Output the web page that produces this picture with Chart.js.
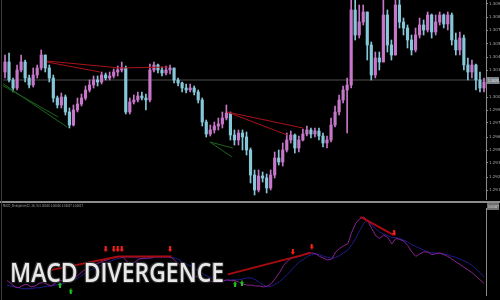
<!DOCTYPE html>
<html>
<head>
<meta charset="utf-8">
<script src="https://cdn.jsdelivr.net/npm/chart.js@4.4.0/dist/chart.umd.min.js"></script>
<style>
  html, body { margin: 0; padding: 0; background: #000; }
  #wrap { position: relative; width: 500px; height: 300px; overflow: hidden; background: #000; }
  #top { position: absolute; left: 0; top: 0; }
  #bot { position: absolute; left: 0; top: 203px; }
  #sep { position: absolute; left: 0; top: 201px; width: 500px; height: 2px; background: #8c8c8c; }
  #edge { position: absolute; left: 1px; top: 0; width: 1px; height: 300px; background: #3c3c3c; }
  #title {
    position: absolute; left: 10px; top: 258px; white-space: nowrap;
    font-family: "Open Sans", sans-serif; font-weight: 600; font-size: 27px; line-height: 1;
    color: #e8e8e8; transform-origin: 0 0;
    text-shadow: 1px 1px 1px #2a2a2a, -1px -1px 1px #3a3a3a, 1px -1px 1px #2a2a2a, -1px 1px 1px #2a2a2a;
  }
</style>
</head>
<body>
<div id="wrap">
  <canvas id="top" width="500" height="200"></canvas>
  <div id="sep"></div>
  <canvas id="bot" width="500" height="97"></canvas>
  <div id="edge"></div>
  <div id="title">MACD DIVERGENCE</div>
</div>
<script>
(() => {
  'use strict'

  // price axis
  const priceTicks = [1.3096, 1.3083, 1.3070, 1.3056, 1.3043, 1.3030, 1.3017, 1.3003,
    1.2990, 1.2977, 1.2963, 1.2950, 1.2937, 1.2923, 1.2910]
  const currentPrice = 1.3020
  const firstOpen = 1.3028

  // candles, oldest first
  const closes = [
    1.3038, 1.3020, 1.3012, 1.3030, 1.3038, 1.3022, 1.3015, 1.3025, 1.3032, 1.3045,
    1.3032, 1.3022, 1.3002, 1.2995, 1.3003, 1.2988, 1.2975, 1.2990, 1.2996, 1.3002,
    1.3010, 1.3015, 1.3020, 1.3018, 1.3025, 1.3022, 1.3024, 1.3028, 1.3030, 1.3032,
    1.2988, 1.2998, 1.3000, 1.3004, 1.3002, 1.3000, 1.3030, 1.3035, 1.3030, 1.3027,
    1.3030, 1.3032, 1.3020, 1.3017, 1.3012, 1.3010, 1.3012, 1.3008, 1.3000, 1.2978,
    1.2966, 1.2970, 1.2974, 1.2976, 1.2982, 1.2987, 1.2965, 1.2960, 1.2967, 1.2963,
    1.2950, 1.2925, 1.2910, 1.2924, 1.2922, 1.2912, 1.2925, 1.2942, 1.2938, 1.2950,
    1.2960, 1.2965, 1.2952, 1.2960, 1.2966, 1.2970, 1.2966, 1.2969, 1.2964, 1.2957,
    1.2960, 1.2975, 1.2988, 1.3000, 1.3010, 1.3015, 1.3090, 1.3065, 1.3078, 1.3088,
    1.3055, 1.3025, 1.3042, 1.3038, 1.3085, 1.3055, 1.3045, 1.3095, 1.3078, 1.3072,
    1.3060, 1.3050, 1.3065, 1.3075, 1.3070, 1.3085, 1.3068, 1.3078, 1.3085, 1.3076,
    1.3085, 1.3060, 1.3050, 1.3062, 1.3035, 1.3028, 1.3035, 1.3020, 1.3012, 1.3018
  ]
  const highs = [
    1.3045, 1.3047, 1.3022, 1.3035, 1.3045, 1.3040, 1.3025, 1.3032, 1.3035, 1.3050,
    1.3045, 1.3035, 1.3025, 1.3004, 1.3007, 1.3005, 1.2992, 1.2995, 1.3002, 1.3006,
    1.3014, 1.3020, 1.3024, 1.3024, 1.3028, 1.3027, 1.3028, 1.3031, 1.3034, 1.3038,
    1.3034, 1.3002, 1.3005, 1.3008, 1.3008, 1.3006, 1.3036, 1.3038, 1.3036, 1.3033,
    1.3034, 1.3035, 1.3032, 1.3022, 1.3018, 1.3016, 1.3016, 1.3014, 1.3010, 1.3002,
    1.2980, 1.2975, 1.2978, 1.2982, 1.2988, 1.2995, 1.2988, 1.2970, 1.2970, 1.2970,
    1.2968, 1.2952, 1.2930, 1.2930, 1.2928, 1.2926, 1.2930, 1.2948, 1.2950, 1.2957,
    1.2967, 1.2969, 1.2966, 1.2964, 1.2971, 1.2974, 1.2972, 1.2972, 1.2972, 1.2967,
    1.2964, 1.2982, 1.2994, 1.3005, 1.3014, 1.3022, 1.3100, 1.3105, 1.3095, 1.3095,
    1.3088, 1.3058, 1.3048, 1.3048, 1.3105, 1.3090, 1.3060, 1.3105, 1.3100, 1.3082,
    1.3075, 1.3065, 1.3072, 1.3082, 1.3080, 1.3088, 1.3086, 1.3085, 1.3088, 1.3086,
    1.3088, 1.3087, 1.3067, 1.3068, 1.3065, 1.3042, 1.3040, 1.3036, 1.3028, 1.3022
  ]
  const lows = [
    1.3022, 1.3018, 1.3008, 1.3010, 1.3028, 1.3018, 1.3012, 1.3013, 1.3022, 1.3030,
    1.3028, 1.3018, 1.2998, 1.2992, 1.2992, 1.2985, 1.2972, 1.2974, 1.2988, 1.2994,
    1.3000, 1.3008, 1.3012, 1.3014, 1.3016, 1.3020, 1.3020, 1.3022, 1.3024, 1.3028,
    1.2986, 1.2986, 1.2996, 1.2998, 1.3000, 1.2990, 1.2998, 1.3028, 1.3027, 1.3024,
    1.3025, 1.3026, 1.3017, 1.3014, 1.3008, 1.3007, 1.3008, 1.3005, 1.2997, 1.2974,
    1.2963, 1.2964, 1.2967, 1.2970, 1.2972, 1.2980, 1.2960, 1.2955, 1.2955, 1.2950,
    1.2945, 1.2917, 1.2905, 1.2908, 1.2918, 1.2907, 1.2910, 1.2922, 1.2935, 1.2934,
    1.2948, 1.2957, 1.2947, 1.2948, 1.2959, 1.2964, 1.2962, 1.2963, 1.2960, 1.2953,
    1.2952, 1.2958, 1.2973, 1.2985, 1.2997, 1.2967, 1.3012, 1.3060, 1.3062, 1.3075,
    1.3040, 1.3020, 1.3022, 1.3030, 1.3038, 1.3048, 1.3040, 1.3045, 1.3072, 1.3065,
    1.3052, 1.3045, 1.3048, 1.3062, 1.3065, 1.3068, 1.3062, 1.3065, 1.3075, 1.3072,
    1.3070, 1.3055, 1.3045, 1.3045, 1.3030, 1.3020, 1.3022, 1.3010, 1.3008, 1.3008
  ]

  // divergence trend lines on the price pane: [[index, price], [index, price]]
  const priceRedLines = [
    [[10.4, 1.3039], [28.6, 1.3032]],
    [[10.4, 1.3038], [23.6, 1.3028]],
    [[28.6, 1.3032], [40.5, 1.3033]],
    [[55.2, 1.2988], [74.0, 1.2972]],
    [[55.2, 1.2988], [70.1, 1.2965]]
  ]
  const priceGreenLines = [
    [[-0.75, 1.3017], [15.4, 1.2973]],
    [[-0.75, 1.3015], [13.2, 1.2983]],
    [[50.9, 1.2958], [56.6, 1.2952]],
    [[50.9, 1.2958], [56.4, 1.2943]]
  ]

  // MACD pane
  const macdMain = [
    -0.00004, -0.00007, -0.00011, -0.00012, -0.00009, -0.00008, -0.00011, -0.00010, -0.00007, -0.00006,
    -0.00008, -0.00010, -0.00007, -0.00004, -0.00004, -0.00006, -0.00005, -0.00001, 0.00003, 0.00007,
    0.00010, 0.00012, 0.00014, 0.00016, 0.00018, 0.00019, 0.00021, 0.00022, 0.00023, 0.00022,
    0.00017, 0.00015, 0.00017, 0.00020, 0.00021, 0.00021, 0.00022, 0.00023, 0.00023, 0.00023,
    0.00023, 0.00022, 0.00018, 0.00014, 0.00010, 0.00007, 0.00003, 0.00001, -0.00001, -0.00003,
    -0.00005, -0.00005, -0.00005, -0.00005, -0.00004, -0.00003, -0.00004, -0.00004, -0.00006, -0.00008,
    -0.00009, -0.00009, -0.00010, -0.00010, -0.00011, -0.00010, -0.00007, -0.00001, 0.00005, 0.00013,
    0.00018, 0.00021, 0.00022, 0.00023, 0.00025, 0.00027, 0.00027, 0.00026, 0.00023, 0.00021,
    0.00019, 0.00020, 0.00028, 0.00032, 0.00035, 0.00037, 0.00050, 0.00060, 0.00065, 0.00067,
    0.00063, 0.00054, 0.00046, 0.00043, 0.00047, 0.00044, 0.00037, 0.00043, 0.00042, 0.00040,
    0.00035, 0.00028, 0.00023, 0.00026, 0.00028, 0.00028, 0.00025, 0.00026, 0.00027, 0.00025,
    0.00023, 0.00020, 0.00017, 0.00014, 0.00011, 0.00008, 0.00005, 0.00001, -0.00003, -0.00007
  ]
  const macdSignal = [
    -0.00009, -0.00010, -0.00011, -0.00012, -0.00013, -0.00013, -0.00013, -0.00012, -0.00012, -0.00011,
    -0.00010, -0.00010, -0.00009, -0.00008, -0.00007, -0.00006, -0.00005, -0.00003, 0.00000, 0.00003,
    0.00006, 0.00008, 0.00010, 0.00012, 0.00014, 0.00016, 0.00018, 0.00020, 0.00021, 0.00022,
    0.00022, 0.00022, 0.00022, 0.00021, 0.00021, 0.00021, 0.00021, 0.00022, 0.00022, 0.00022,
    0.00022, 0.00022, 0.00021, 0.00019, 0.00016, 0.00014, 0.00012, 0.00009, 0.00006, 0.00003,
    0.00001, -0.00001, -0.00002, -0.00003, -0.00004, -0.00004, -0.00003, -0.00003, -0.00003, -0.00002,
    -0.00001, -0.00001, -0.00003, -0.00006, -0.00009, -0.00011, -0.00010, -0.00008, -0.00005, -0.00001,
    0.00003, 0.00008, 0.00013, 0.00017, 0.00020, 0.00023, 0.00025, 0.00026, 0.00025, 0.00023,
    0.00022, 0.00021, 0.00022, 0.00024, 0.00027, 0.00030, 0.00036, 0.00043, 0.00052, 0.00060,
    0.00063, 0.00058, 0.00054, 0.00050, 0.00048, 0.00046, 0.00044, 0.00044, 0.00043, 0.00041,
    0.00039, 0.00036, 0.00034, 0.00032, 0.00030, 0.00028, 0.00027, 0.00027, 0.00026, 0.00026,
    0.00025, 0.00023, 0.00022, 0.00020, 0.00018, 0.00016, 0.00013, 0.00009, 0.00005, 0.00000
  ]
  const macdRedLines = [
    [[11.2, 0.00008], [27.8, 0.00023]],
    [[27.8, 0.00023], [41.0, 0.00023]],
    [[55.1, 0.00003], [75.8, 0.00027]],
    [[88.2, 0.00067], [96.4, 0.00047]]
  ]
  const sellArrows = [[24.6, 0.00031], [26.6, 0.00031], [27.6, 0.00031], [28.6, 0.00031],
    [40.7, 0.00031], [71.3, 0.00028], [76.0, 0.00034], [96.6, 0.00049]]
  const buyArrows = [[13.2, -0.00009], [15.9, -0.00016], [56.9, -0.00008], [58.6, -0.00007]]
  const macdLabel = 'MACD_Divergence(12, 26, 9) 0.00000 0.00000 0.00027 0.00027'

  const opens = closes.map((c, i) => i === 0 ? firstOpen : closes[i - 1])
  const candleColor = closes.map((c, i) => c >= opens[i] ? '#c777c9' : '#86c8d9')

  const segs = (lines, color, width) => lines.map(l => ({
    type: 'line',
    data: l.map(p => ({ x: p[0], y: p[1] })),
    borderColor: color,
    borderWidth: width,
    pointRadius: 0,
    order: 1
  }))

  const makeArrow = (color, down) => {
    const c = document.createElement('canvas')
    c.width = 4
    c.height = 6
    const g = c.getContext('2d')
    g.fillStyle = color
    if (down) {
      g.fillRect(1, 0, 2, 3)
      g.beginPath(); g.moveTo(0, 3); g.lineTo(4, 3); g.lineTo(2, 6); g.fill()
    } else {
      g.fillRect(1, 3, 2, 3)
      g.beginPath(); g.moveTo(0, 3); g.lineTo(4, 3); g.lineTo(2, 0); g.fill()
    }
    return c
  }

  const axisBox = {
    id: 'axisBox',
    afterDraw(chart, args, opts) {
      const { ctx } = chart
      const y = opts.value === undefined ? opts.y : chart.scales.y.getPixelForValue(opts.value)
      ctx.save()
      ctx.fillStyle = opts.bg
      ctx.fillRect(487, Math.round(y) - 3, 12, 7)
      ctx.fillStyle = opts.color
      ctx.font = '4px "DejaVu Sans"'
      ctx.textBaseline = 'middle'
      ctx.fillText(opts.text, 488, Math.round(y) + 0.5, 11)
      if (opts.caption) {
        ctx.fillStyle = '#a0a0a0'
        ctx.textBaseline = 'top'
        ctx.fillText(opts.caption, 3, 1, 80)
      }
      ctx.restore()
    }
  }

  const xScale = { type: 'linear', min: -0.5, max: 119.5, offset: false, display: false }

  // price pane
  new Chart(document.getElementById('top'), {
    type: 'bar',
    data: {
      datasets: [
        {
          type: 'line',
          data: [{ x: -0.5, y: currentPrice }, { x: 119.5, y: currentPrice }],
          borderColor: '#4e4e4e',
          borderWidth: 1,
          pointRadius: 0,
          order: 5
        },
        {
          data: lows.map((l, i) => ({ x: i, y: [l, highs[i]] })),
          backgroundColor: candleColor,
          barThickness: 1,
          grouped: false,
          order: 4
        },
        {
          data: opens.map((o, i) => ({ x: i, y: [o, closes[i]] })),
          backgroundColor: candleColor,
          barThickness: 2.5,
          minBarLength: 1,
          grouped: false,
          order: 3
        },
        ...segs(priceRedLines, '#a8141a', 1),
        ...segs(priceGreenLines, '#1d631d', 1)
      ]
    },
    plugins: [axisBox],
    options: {
      responsive: false,
      animation: false,
      layout: { padding: { left: 3, right: 0, top: 0, bottom: 0 } },
      plugins: {
        legend: { display: false },
        tooltip: { enabled: false },
        axisBox: { value: currentPrice, text: currentPrice.toFixed(4), bg: '#7c848c', color: '#e8e8e8' }
      },
      scales: {
        x: xScale,
        y: {
          position: 'right',
          min: 1.2900,
          max: 1.3100,
          afterBuildTicks: s => { s.ticks = priceTicks.map(v => ({ value: v })) },
          afterFit: s => { s.width = 14; s.paddingTop = 0; s.paddingBottom = 0 },
          grid: { drawOnChartArea: false, color: '#8a8a8a', tickLength: 2 },
          border: { color: '#8a8a8a' },
          ticks: {
            color: '#a8a8a8',
            padding: 1,
            font: { size: 4, family: 'DejaVu Sans' },
            callback: v => v.toFixed(4)
          }
        }
      }
    }
  })

  // MACD pane
  new Chart(document.getElementById('bot'), {
    type: 'line',
    data: {
      datasets: [
        {
          data: macdSignal.map((v, i) => ({ x: i, y: v })),
          borderColor: '#1c1c8c',
          borderWidth: 1,
          pointRadius: 0,
          order: 4
        },
        {
          data: macdMain.map((v, i) => ({ x: i, y: v })),
          borderColor: '#8a2290',
          borderWidth: 1,
          pointRadius: 0,
          order: 3
        },
        ...segs(macdRedLines, '#a80c10', 2),
        {
          data: sellArrows.map(p => ({ x: p[0], y: p[1] })),
          showLine: false,
          pointStyle: makeArrow('#ff2020', true),
          pointRadius: 3,
          order: 0
        },
        {
          data: buyArrows.map(p => ({ x: p[0], y: p[1] })),
          showLine: false,
          pointStyle: makeArrow('#1fc81f', false),
          pointRadius: 3,
          order: 0
        }
      ]
    },
    plugins: [axisBox],
    options: {
      responsive: false,
      animation: false,
      layout: { padding: { left: 3, right: 0, top: 0, bottom: 0 } },
      plugins: {
        legend: { display: false },
        tooltip: { enabled: false },
        axisBox: { y: 3, text: '0.00067', bg: '#6e6e6e', color: '#d8d8d8', caption: macdLabel }
      },
      scales: {
        x: xScale,
        y: {
          position: 'right',
          min: -0.00020,
          max: 0.00077,
          afterFit: s => { s.width = 14; s.paddingTop = 0; s.paddingBottom = 0 },
          grid: { display: false },
          border: { color: '#8a8a8a' },
          ticks: { display: false }
        }
      }
    }
  })

  // squeeze the overlay caption to the reference width
  document.fonts.ready.then(() => {
    const t = document.getElementById('title')
    const w = t.getBoundingClientRect().width
    t.style.transform = 'scaleX(' + (214 / w) + ')'
  })
})()
</script>
</body>
</html>
